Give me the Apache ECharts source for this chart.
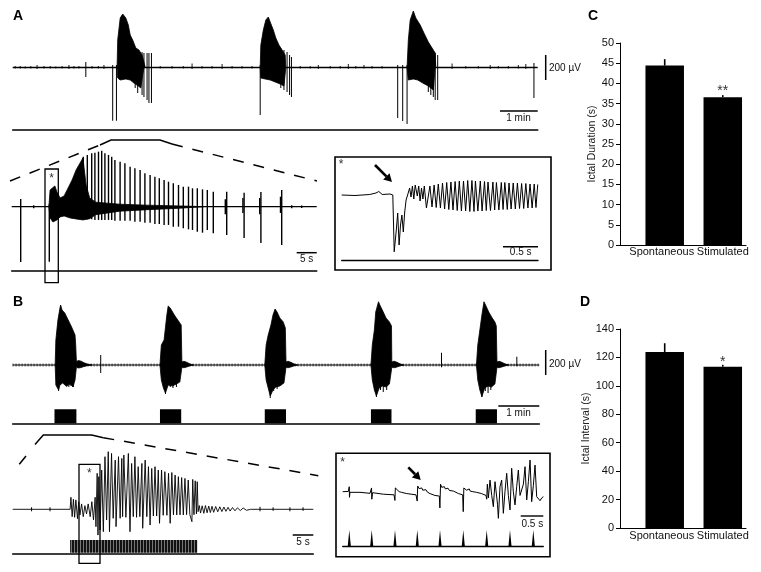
<!DOCTYPE html>
<html><head><meta charset="utf-8">
<script src="https://cdn.jsdelivr.net/npm/echarts@6/dist/echarts.min.js"></script>
<style>html,body{margin:0;padding:0;background:#fff}#c{width:761px;height:572px}</style>
</head><body><div id="c"></div><script>
// ================= DATA =================
// Bar charts (C, D)
const barCats = ['Spontaneous', 'Stimulated'];
const durMean = [44.4, 36.6];
const durErrTop = [46.0, 37.1];
const durSig = ['', '**'];
const durTicks = [0, 5, 10, 15, 20, 25, 30, 35, 40, 45, 50];
const intMean = [123.8, 113.5];
const intErrTop = [130.0, 114.8];
const intSig = ['', '*'];
const intTicks = [0, 20, 40, 60, 80, 100, 120, 140];

// Panel A, top trace (time s, amplitude µV)
const aTopBaseline = [[0, 0], [840, 0]];
const aTopUpper = [
  [[167,0],[168,220],[172,396],[176,428],[178,434],[181,396],[185,340],[188,260],[192,220],[197,156],[202,140],[207,100],[210,44],[212,0]],
  [[396,0],[397,180],[401,300],[405,380],[409,404],[412,364],[417,300],[421,236],[426,180],[431,140],[436,100],[437,0]],
  [[631,0],[633,220],[636,380],[641,452],[645,396],[652,340],[658,276],[665,204],[671,156],[676,116],[677,0]]
];
const aTopLower = [
  [[167,0],[168,-84],[172,-100],[181,-92],[188,-100],[194,-124],[201,-148],[205,-164],[208,-60],[210,0]],
  [[396,0],[397,-84],[404,-92],[412,-100],[420,-116],[428,-132],[434,-148],[437,0]],
  [[631,0],[633,-100],[641,-92],[648,-100],[656,-124],[665,-148],[673,-180],[676,0]]
];
// [time, low, high]
const aTopSpikes = [
  [117,-76,44],[160,-426,20],[166,-426,20],[196,-164,100],[200,-204,92],[207,-220,124],[210,-236,116],[215,-260,116],[218,-284,116],[222,-284,116],
  [396,-380,20],[429,-164,156],[434,-180,140],[439,-196,124],[443,-220,100],[446,-236,84],
  [616,-404,20],[624,-428,20],[631,-452,20],[665,-196,156],[669,-220,140],[673,-236,132],[676,-260,116],[680,-260,100],[834,-244,36]
];
const aTopTicks = [
  [4,-8,12],[12,-8,12],[20,-8,8],[29,-8,12],[39,-12,20],[50,-8,12],[60,-8,12],[69,-8,8],[79,-8,12],[90,-12,20],[98,-8,12],[106,-8,12],[127,-8,12],[137,-8,12],[146,-12,20],
  [236,-8,12],[255,-8,12],[273,-8,12],[287,-12,32],[303,-8,12],[319,-8,12],[335,-12,28],[351,-8,12],[367,-8,12],[383,-8,12],
  [460,-8,12],[476,-8,12],[489,-12,20],[508,-8,12],[524,-8,12],[537,-12,28],[549,-8,12],[562,-8,20],[575,-8,12],[591,-8,12],
  [703,-12,32],[725,-8,12],[745,-8,12],[764,-12,20],[777,-8,12],[793,-8,12],[809,-8,20],[821,-12,28]
];

// Panel A, expanded seizure (time s, µV)
const aExpBaseline = [[0, 0], [76.25, 0]];
const aExpUpper = [[9.3,0],[9.6,134],[10.1,150],[10.8,166],[11.3,118],[12.1,70],[13.1,86],[14.1,150],[15.1,214],[16.1,294],[17.1,350],[17.8,390],[18.6,174],[19.5,70],[21,36],[27,20],[34,12],[42,6],[48,0]];
const aExpLower = [[9.3,0],[9.6,-90],[10.3,-122],[11.3,-106],[12.1,-82],[13.1,-74],[14.6,-90],[16.1,-98],[17.8,-106],[19.5,-96],[21,-64],[27,-36],[34,-24],[42,-12],[48,0]];
const aExpSpikes = [
  [2.25,-442,62],[9.4,-440,20],
  [17.9,-101,400],[18.9,-101,414],[20.0,-101,427],[20.8,-106,432],[21.7,-106,440],[22.5,-106,448],[23.3,-106,427],[24.2,-106,414],[25.0,-106,400],
  [25.8,-112,374],[27.1,-112,360],[28.3,-112,347],[29.6,-112,320],[30.8,-120,307],[32.1,-120,294],[33.3,-128,267],[34.6,-128,254],[35.8,-138,240],
  [36.9,-138,227],[38.1,-146,214],[39.2,-146,200],[40.4,-160,187],[41.7,-160,174],[42.9,-173,160],[44.2,-181,160],[45.2,-186,147],[46.4,-200,147],
  [47.7,-208,139],[48.9,-186,134],[50.4,-213,120],
  [53.4,-60,60],[53.75,-226,120],[57.8,-50,70],[58.1,-250,112],[62.0,-60,70],[62.3,-290,118],[67.2,-50,80],[67.5,-306,134],
  [5.5,-12,12],[70,-12,12],[72.5,-10,10]
];

// Panel A, inset (*) (time s, µV)
const aInsTrace = [[0,0],[0.19,-4],[0.40,4],[0.49,16],[0.53,28],[0.58,4],[0.69,8],[0.73,0],[0.75,-454],[0.78,-280],[0.80,-144],[0.82,-400],[0.84,-240],[0.86,-160],[0.88,-296],[0.90,-136],[0.92,-40],[0.95,16],[0.97,56],[0.99,-16],[1.01,72],[1.03,-32],[1.05,80],[1.08,-8],[1.10,72],[1.12,-48],[1.14,56],[1.16,-32],[1.18,72],[1.21,-104],
  [1.26,72],[1.29,-96],[1.32,80],[1.35,-100],[1.38,88],[1.41,-104],[1.44,96],[1.47,-112],[1.50,100],[1.53,-116],[1.56,104],[1.59,-120],[1.62,108],[1.65,-124],[1.68,112],[1.71,-128],[1.74,112],[1.77,-128],[1.80,116],[1.83,-132],[1.86,116],[1.89,-132],[1.91,112],[1.945,-128],[1.98,112],[2.005,-128],[2.04,108],[2.065,-124],[2.09,104],[2.125,-124],[2.16,104],[2.185,-120],[2.21,100],[2.245,-120],[2.28,100],[2.305,-116],[2.33,100],[2.365,-116],[2.39,96],[2.42,-112],[2.45,96],[2.48,-112],[2.51,96],[2.54,-108],[2.57,92],[2.60,-108],[2.63,92],[2.66,-104],[2.69,88],[2.72,-104],[2.75,88],[2.775,-100],[2.80,84]];

// Panel B, top trace (time s, µV)
const bTopBaseline = [[0, 0], [768.8, 0]];
const bTopUpper = [
  [[62,0],[63,200],[66,360],[69,456],[70,480],[72,440],[76,416],[81,360],[86,304],[91,240],[92,160],[93,28],[96,36],[100,30],[104,18],[110,6],[116,0]],
  [[215,0],[217,160],[221,200],[225,400],[227,472],[230,456],[236,400],[241,360],[246,320],[247,24],[250,30],[254,22],[259,8],[264,0]],
  [[368,0],[370,160],[373,240],[377,320],[380,400],[383,448],[386,424],[390,376],[395,344],[398,296],[399,24],[402,30],[406,22],[411,8],[416,0]],
  [[523,0],[525,160],[528,280],[530,424],[534,506],[536,480],[541,424],[545,376],[550,344],[553,312],[553.5,24],[557,30],[561,22],[566,8],[571,0]],
  [[677,0],[679,160],[682,280],[685,400],[688,506],[691,472],[695,424],[700,376],[704,344],[706,312],[707,24],[710,30],[714,22],[719,8],[724,0]]
];
const bTopLower = [
  [[62,0],[63,-160],[67,-200],[69,-160],[73,-144],[78,-168],[84,-152],[88,-176],[91,-120],[93,-18],[96,-24],[100,-20],[104,-12],[110,-4],[116,0]],
  [[215,0],[217,-120],[220,-184],[223,-224],[227,-160],[233,-168],[239,-152],[244,-136],[247,-18],[250,-22],[254,-16],[259,-6],[264,0]],
  [[368,0],[370,-120],[373,-184],[376,-248],[380,-200],[384,-176],[390,-168],[396,-144],[399,-18],[402,-22],[406,-16],[411,-6],[416,0]],
  [[523,0],[525,-120],[528,-200],[531,-248],[535,-184],[540,-168],[545,-176],[550,-152],[553.5,-18],[557,-22],[561,-16],[566,-6],[571,0]],
  [[677,0],[679,-120],[682,-200],[685,-253],[689,-184],[694,-168],[699,-176],[704,-152],[707,-18],[710,-22],[714,-16],[719,-6],[724,0]]
];
const bTopSpikes = [
  [67,-208,0],[79,-174,0],[82,-176,0],[85,-168,0],[88.5,-176,0],[128.5,-64,80],
  [223,-232,0],[230,-176,0],[234,-184,0],[239,-176,0],
  [376,-264,0],[381,-208,0],[386,-192,0],
  [531,-256,0],[537,-200,0],[541,-216,0],[546,-200,0],
  [685,-256,0],[690,-208,0],[694,-224,0],[698,-200,0],
  [626,-18,98],[736,-10,66]
];
const bTopStim = [[61,93],[215,246],[368,399],[523,553],[676,707]];

// Panel B, expanded seizure (time s, µV)
const bExpTrace = [[0,0],[14.0,0],[14.2,96],[14.5,-59],[14.8,80],[15.1,-64],[15.4,75],[15.8,-75],[16.1,61],[16.4,-45],[16.8,43],[17.2,-59],[17.6,29],[18.0,-37],[18.4,43],[18.9,-59],[19.3,61],[19.7,-85],[20.1,96],[20.3,-139],[20.6,288],[20.8,-206],[21.0,261],[21.3,-166],[21.7,314],[22.1,-179],[22.5,421],[22.9,-85],[23.3,461],[23.6,-179],[24.1,447],[24.5,-72],[25.0,394],[25.2,-139],[25.8,421],[26.2,-72],[26.6,407],[26.8,-59],[27.1,434],[27.6,-64],[28.2,447],[28.6,-179],[29.0,367],[29.4,-59],[29.8,421],[30.2,-64],[30.6,341],[31.0,-59],[31.5,367],[31.7,-152],[32.3,394],[32.7,-59],[33.1,341],[33.5,-126],[33.9,327],[34.3,-54],[34.7,341],[35.1,-54],[35.5,314],[35.8,-112],[36.3,314],[36.7,-48],[37.1,301],[37.6,-48],[38.0,288],[38.4,-112],[38.8,294],[39.2,-45],[39.6,274],[40.0,-45],[40.4,261],[40.8,-45],[41.2,254],[41.6,-45],[42.0,247],[42.4,-43],[42.8,234],[43.2,-43],[43.7,-99],[43.9,239],[44.2,-43],[44.5,228],[44.8,-37],[45.0,221],[45.2,-19],
  [45.5,30],[45.8,-30],[46.2,28],[46.6,-32],[47.0,30],[47.4,-28],[47.8,26],[48.2,-26],[48.6,24],[49.0,-24],[49.5,22],[50.0,-20],[50.5,20],[51.0,-18],[51.5,18],[52.0,-16],[52.5,16],[53.0,-14],[53.6,14],[54.2,-12],[54.8,12],[55.5,-10],[56.2,10],[57.0,-8],[58.0,0],[73.3,0]];
const bExpTicks = [[4.6,-16,16],[9.1,-16,16],[60.3,-16,20],[63.5,-12,16],[67.6,-16,16],[70.8,-12,16]];
const bExpStim = [[14.0, 45.0]];

// Panel B, inset (*) (time s, µV) and stimulus pulse times (s)
const bInsTrace = [[0,0],[0.124,2],[0.145,40],[0.150,-45],[0.160,-5],[0.176,3],[0.383,-5],[0.604,-13],[0.638,30],[0.644,-60],[0.660,-8],[0.899,-20],[1.135,-25],[1.155,-70],[1.165,30],[1.190,15],[1.250,0],[1.300,-5],[1.415,-15],[1.622,-25],[1.648,-75],[1.660,45],[1.690,25],[1.710,35],[1.730,18],[1.750,30],[1.770,12],[1.790,24],[1.810,6],[1.840,16],[1.870,-2],[1.930,-15],[2.040,-30],[2.138,-35],[2.150,-130],[2.165,60],[2.190,35],[2.210,45],[2.230,28],[2.250,40],[2.270,22],[2.290,34],[2.310,16],[2.330,28],[2.360,10],[2.400,18],[2.450,5],[2.560,-15],[2.654,-25],[2.667,-160],[2.680,30],[2.700,15],[2.720,28],[2.740,12],[2.760,25],[2.780,8],[2.800,22],[2.820,5],[2.850,18],[2.880,0],[2.920,12],[2.960,-5],[3.070,-15],[3.170,-30],[3.186,-60],[3.200,60],[3.222,-50],[3.259,93],[3.297,-30],[3.333,-120],[3.370,80],[3.407,67],[3.425,-100],[3.444,-213],[3.480,40],[3.517,93],[3.554,-173],[3.590,0],[3.628,147],[3.665,-30],[3.702,-146],[3.738,187],[3.775,0],[3.812,-106],[3.849,40],[3.886,173],[3.923,-30],[3.960,-40],[3.997,60],[4.034,200],[4.071,-66],[4.108,80],[4.145,253],[4.181,-80],[4.218,50],[4.255,213],[4.292,-40],[4.329,-27],[4.366,-72],[4.403,-50],[4.440,-40]];
const bInsPulses = [0.146, 0.642, 1.157, 1.650, 2.153, 2.668, 3.186, 3.701, 4.217];

// ================= LAYOUT / STYLE =================
const FONT = '"Liberation Sans", Arial, Helvetica, sans-serif';
const grids = [
  {left:12.7, top:5, width:525, height:124.3},
  {left:11.7, top:142.7, width:305, height:128},
  {left:341.7, top:170, width:196.3, height:90},
  {left:12.7, top:295, width:526.6, height:128.3},
  {left:12.7, top:445.3, width:300.6, height:108},
  {left:342.7, top:455, width:200.6, height:91.7},
  {left:620, top:43, width:126, height:202},
  {left:620, top:329, width:126, height:199}
];
const xr = [[0,840],[0,76.25],[0,2.804],[0,768.8],[0,73.3],[0,4.438]];
const yr = [[-494.4,500],[-512,512],[-520,200],[-466.4,560],[-352,512],[-440,293.6]];
const bottomW = [1.6, 1.6, 1.3, 1.6, 1.6, 1.3];

const xAxes = [], yAxes = [];
for (let i = 0; i < 6; i++) {
  xAxes.push({type:'value', gridIndex:i, min:xr[i][0], max:xr[i][1],
    axisLine:{show:true, onZero:false, lineStyle:{color:'#000', width:bottomW[i]}},
    axisTick:{show:false}, axisLabel:{show:false}, splitLine:{show:false}});
  yAxes.push({type:'value', gridIndex:i, min:yr[i][0], max:yr[i][1], show:false, splitLine:{show:false}});
}
function barAxes(gi, ticks, name) {
  xAxes.push({type:'value', gridIndex:gi, min:0.23, max:2.4,
    axisLine:{show:true, onZero:false, lineStyle:{color:'#000', width:1}},
    axisTick:{show:false}, splitLine:{show:false}, axisLabel:{show:false}});
  yAxes.push({type:'value', gridIndex:gi, min:ticks[0], max:ticks[ticks.length-1], interval:ticks[1]-ticks[0],
    axisLine:{show:true, lineStyle:{color:'#000', width:1}},
    axisTick:{show:true, length:4, lineStyle:{color:'#000'}},
    axisLabel:{color:'#111', fontSize:11, fontFamily:FONT, margin:6},
    splitLine:{show:false},
    name:name, nameLocation:'middle', nameGap:21,
    nameTextStyle:{fontSize:10.5, color:'#222', fontFamily:FONT}});
}
barAxes(6, durTicks, 'Ictal Duration (s)');
barAxes(7, intTicks, 'Ictal Interval (s)');

const series = [];
function lineS(gi, data, w) {
  series.push({type:'line', xAxisIndex:gi, yAxisIndex:gi, data:data, symbol:'none', silent:true,
    lineStyle:{color:'#000', width:w}, clip:false});
}
function areaS(gi, data) {
  series.push({type:'line', xAxisIndex:gi, yAxisIndex:gi, data:data, symbol:'none', silent:true,
    lineStyle:{color:'#000', width:0.8}, areaStyle:{color:'#000', opacity:1}, clip:false});
}
function spikeS(gi, data, w) {
  series.push({type:'custom', xAxisIndex:gi, yAxisIndex:gi, data:data, silent:true,
    renderItem:(p, api) => {
      const a = api.coord([api.value(0), api.value(1)]);
      const b = api.coord([api.value(0), api.value(2)]);
      return {type:'line', shape:{x1:a[0], y1:a[1], x2:b[0], y2:b[1]}, style:{stroke:'#000', lineWidth:w}};
    }});
}
// striped pattern for the dense stimulus train
const pat = document.createElement('canvas');
pat.width = 3; pat.height = 4;
(function () { const c = pat.getContext('2d'); c.fillStyle = '#111'; c.fillRect(0, 0, 3, 4); c.fillStyle = '#777'; c.fillRect(2, 0, 1, 4); })();
function stimS(gi, data, lo, hi, fill) {
  series.push({type:'custom', xAxisIndex:gi, yAxisIndex:gi, data:data, silent:true,
    renderItem:(p, api) => {
      const a = api.coord([api.value(0), hi]);
      const b = api.coord([api.value(1), lo]);
      return {type:'rect', shape:{x:a[0], y:a[1], width:b[0]-a[0], height:b[1]-a[1]}, style:{fill:fill}};
    }});
}

// A top
lineS(0, aTopBaseline, 1.6);
aTopUpper.forEach(d => areaS(0, d));
aTopLower.forEach(d => areaS(0, d));
spikeS(0, aTopSpikes, 1);
spikeS(0, aTopTicks, 0.9);
// A expanded
lineS(1, aExpBaseline, 1.3);
areaS(1, aExpUpper); areaS(1, aExpLower);
spikeS(1, aExpSpikes, 1.4);
// A inset
lineS(2, aInsTrace, 1);
// B top
lineS(3, bTopBaseline, 1.2);
series.push({type:'line', xAxisIndex:3, yAxisIndex:3, data:bTopBaseline, symbol:'none', silent:true,
  lineStyle:{color:'#000', width:2.8, type:[0.7, 2.3]}});
bTopUpper.forEach(d => areaS(3, d));
bTopLower.forEach(d => areaS(3, d));
spikeS(3, bTopSpikes, 1);
stimS(3, bTopStim, -466.4, -354, '#000');
// B expanded
lineS(4, bExpTrace, 0.9);
spikeS(4, bExpTicks, 1);
stimS(4, bExpStim, -347, -246, {image:pat, repeat:'repeat'});
// B inset
lineS(5, bInsTrace, 1);
series.push({type:'custom', xAxisIndex:5, yAxisIndex:5, data:bInsPulses.map(t => [t]), silent:true,
  renderItem:(p, api) => {
    const base = api.coord([api.value(0), -440]);
    const top = api.coord([api.value(0), -306]);
    return {type:'polygon', shape:{points:[[base[0]-1.6, base[1]], [top[0], top[1]], [base[0]+1.6, base[1]]]}, style:{fill:'#000'}};
  }});

// Bars C and D
function barSet(gi, mean, err, sig, starOffset, labelGap) {
  series.push({type:'bar', xAxisIndex:gi, yAxisIndex:gi, data:mean.map((v, i) => [i+1, v]),
    barWidth:38.5, itemStyle:{color:'#000'}, silent:true});
  series.push({type:'custom', xAxisIndex:gi, yAxisIndex:gi, data:mean.map((v, i) => [i+1, v, err[i]]), silent:true,
    renderItem:(p, api) => {
      const a = api.coord([api.value(0), api.value(1)]);
      const b = api.coord([api.value(0), api.value(2)]);
      return {type:'line', shape:{x1:a[0], y1:a[1], x2:b[0], y2:b[1]}, style:{stroke:'#000', lineWidth:1.6}};
    }});
  series.push({type:'custom', xAxisIndex:gi, yAxisIndex:gi, data:mean.map((v, i) => [i+1, err[i], i]), silent:true,
    renderItem:(p, api) => {
      const a = api.coord([api.value(0), api.value(1)]);
      const s = sig[api.value(2)];
      if (!s) return null;
      return {type:'text', x:a[0], y:a[1] - starOffset,
        style:{text:s, font:'14px ' + FONT, fill:'#333', align:'center', verticalAlign:'middle', textAlign:'center', textVerticalAlign:'middle'}};
    }});
  // category labels under the bars
  series.push({type:'custom', xAxisIndex:gi, yAxisIndex:gi, data:barCats.map((c, i) => [i+1, 0, i]), silent:true,
    renderItem:(p, api) => {
      const a = api.coord([api.value(0), api.value(1)]);
      return {type:'text', x:a[0] - (api.value(2) === 0 ? 3 : 0), y:a[1] + labelGap,
        style:{text:barCats[api.value(2)], font:'11px ' + FONT, fill:'#111', align:'center', verticalAlign:'top', textAlign:'center', textVerticalAlign:'top'}};
    }});
}
barSet(6, durMean, durErrTop, durSig, 4, 1.5);
barSet(7, intMean, intErrTop, intSig, 3, 2.5);

// ================= ANNOTATIONS =================
const G = [];
function txt(x, y, s, size, opts) {
  opts = opts || {};
  G.push({type:'text', x:x, y:y, silent:true, style:{text:s, font:(opts.bold ? 'bold ' : '') + size + 'px ' + FONT,
    fill:opts.fill || '#111', align:opts.align || 'center', verticalAlign:'middle',
    textAlign:opts.align || 'center', textVerticalAlign:'middle'}});
}
function ln(pts, w, dash) {
  G.push({type:'polyline', silent:true, shape:{points:pts}, style:{stroke:'#000', lineWidth:w, fill:null, lineDash:dash || null}});
}
function box(x, y, w, h, lw) {
  G.push({type:'rect', silent:true, shape:{x:x, y:y, width:w, height:h}, style:{stroke:'#000', lineWidth:lw, fill:null}});
}
function arrow(x1, y1, x2, y2) {
  const dx = x2 - x1, dy = y2 - y1, L = Math.hypot(dx, dy), ux = dx / L, uy = dy / L;
  const hl = 8, hw = 4.5, bx = x2 - ux * hl, by = y2 - uy * hl;
  G.push({type:'line', silent:true, shape:{x1:x1, y1:y1, x2:bx, y2:by}, style:{stroke:'#000', lineWidth:2.6}});
  G.push({type:'polygon', silent:true, shape:{points:[[x2, y2], [bx - uy * hw, by + ux * hw], [bx + uy * hw, by - ux * hw]]}, style:{fill:'#000'}});
}

// panel letters
txt(13, 16, 'A', 14, {bold:true, align:'left', fill:'#000'});
txt(13, 302, 'B', 14, {bold:true, align:'left', fill:'#000'});
txt(588, 16, 'C', 14, {bold:true, align:'left', fill:'#000'});
txt(580, 302, 'D', 14, {bold:true, align:'left', fill:'#000'});

// scale bars A
ln([[545.7, 55], [545.7, 80]], 1.5);
txt(549, 68, '200 \u00b5V', 10, {align:'left'});
ln([[500, 111], [537.7, 111]], 1.5);
txt(518.5, 118.5, '1 min', 10);
// scale bars B
ln([[545.7, 350], [545.7, 375]], 1.5);
txt(549, 364, '200 \u00b5V', 10, {align:'left'});
ln([[498.3, 406], [539.3, 406]], 1.5);
txt(518.5, 413, '1 min', 10);

// A expanded decorations
ln([[10, 181], [100, 145]], 1.5, [11, 10]);
ln([[100, 145], [111, 140], [160, 140], [172, 144]], 1.5);
ln([[172, 144], [317, 181]], 1.5, [11, 10]);
box(45, 169, 13.3, 113.7, 1.3);
txt(51.5, 178.5, '*', 12, {fill:'#333'});
ln([[296.7, 252.7], [316.7, 252.7]], 1.5);
txt(306.7, 259, '5 s', 10);

// A inset
box(335, 157, 216, 113, 1.6);
txt(341, 165, '*', 12, {fill:'#333'});
arrow(375, 165, 392, 182);
ln([[503, 246.7], [538, 246.7]], 1.4);
txt(520.7, 252.5, '0.5 s', 10);

// B expanded decorations
ln([[19.3, 464.3], [26, 456]], 1.5);
ln([[35, 444.5], [43.3, 435], [91.7, 435], [103.3, 437.7]], 1.5);
ln([[103.3, 437.7], [318.3, 475.7]], 1.5, [11, 10]);
box(79, 464.3, 21, 99, 1.3);
txt(89.3, 473.5, '*', 12, {fill:'#333'});
ln([[292.7, 535], [313.3, 535]], 1.5);
txt(303, 542, '5 s', 10);

// B inset
box(336, 453.3, 214, 103.4, 1.6);
txt(342.7, 462.5, '*', 12, {fill:'#333'});
arrow(408.3, 467.3, 420.7, 480);
ln([[520.7, 516], [543.3, 516]], 1.4);
txt(532.3, 524.3, '0.5 s', 10);

const chart = echarts.init(document.getElementById('c'), null, {renderer:'canvas'});
chart.setOption({
  animation:false,
  backgroundColor:'#fff',
  textStyle:{fontFamily:FONT},
  grid:grids.map(g => Object.assign({containLabel:false}, g)),
  xAxis:xAxes, yAxis:yAxes, series:series, graphic:G
});
</script></body></html>
